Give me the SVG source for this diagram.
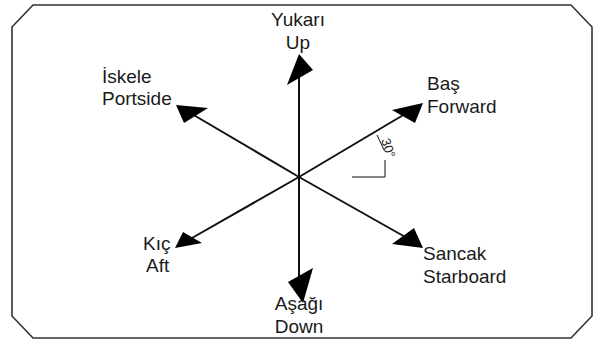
<svg xmlns="http://www.w3.org/2000/svg" width="594" height="340" viewBox="0 0 594 340">
<style>
.frame{fill:#fff;stroke:#333;stroke-width:1.6}
.ax{stroke:#111;stroke-width:2;fill:none}
.head{fill:#000}
.lbl{font-family:"Liberation Sans",Arial,sans-serif;font-size:19px;fill:#1a1a1a}
.thin{stroke:#111;stroke-width:1;fill:none}
</style>
<polygon class="frame" points="33,5 571,5 592,27 592,316 571,338 33,338 12,316 12,27"/>
<g id="connectors">
<line class="ax" x1="299" y1="177" x2="299" y2="72"/>
<line class="ax" x1="299" y1="177" x2="299" y2="283"/>
<line class="ax" x1="299" y1="177" x2="192" y2="114"/>
<line class="ax" x1="299" y1="177" x2="405" y2="114"/>
<line class="ax" x1="299" y1="177" x2="192" y2="238"/>
<line class="ax" x1="299" y1="177" x2="407" y2="238"/>
<polygon class="head" points="299,54 313,70 287,85"/>
<polygon class="head" points="303,303 288,282 313,268"/>
<polygon class="head" points="176,105 208,108 184,123"/>
<polygon class="head" points="423,103 392,110 415,123"/>
<polygon class="head" points="175,248 183,232 202,243"/>
<polygon class="head" points="423,248 392,244 414,228"/>
</g>
<g id="angle">
<line class="thin" x1="377" y1="135" x2="384" y2="150"/>
<line class="thin" x1="385" y1="160" x2="385" y2="177"/>
<line class="thin" x1="352" y1="177" x2="385" y2="177"/>
<text class="lbl" transform="translate(381,140) rotate(72)" style="font-size:13px">30°</text>
</g>
<g id="up"><text class="lbl" x="298" y="26" text-anchor="middle">Yukarı</text><text class="lbl" x="298" y="49" text-anchor="middle">Up</text></g>
<g id="down"><text class="lbl" x="299" y="310" text-anchor="middle">Aşağı</text><text class="lbl" x="299" y="333" text-anchor="middle">Down</text></g>
<g id="portside"><text class="lbl" x="102" y="83">İskele</text><text class="lbl" x="102" y="105">Portside</text></g>
<g id="forward"><text class="lbl" x="427" y="90">Baş</text><text class="lbl" x="427" y="113">Forward</text></g>
<g id="aft"><text class="lbl" x="143" y="250">Kıç</text><text class="lbl" x="146" y="272">Aft</text></g>
<g id="starboard"><text class="lbl" x="423" y="260">Sancak</text><text class="lbl" x="423" y="283">Starboard</text></g>
</svg>
